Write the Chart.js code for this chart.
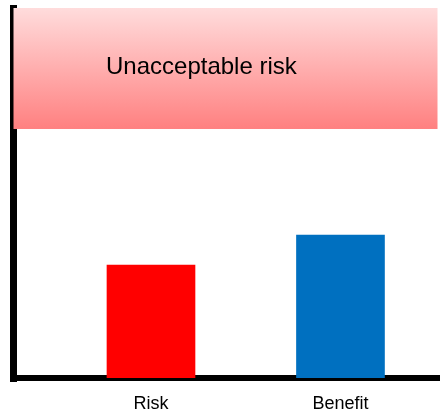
<!DOCTYPE html>
<html>
<head>
<meta charset="utf-8">
<script src="https://cdn.jsdelivr.net/npm/chart.js@4"></script>
<style>
  body { margin: 0; background: #fff; }
  canvas { display: block; }
</style>
</head>
<body>
<canvas id="mychart" width="440" height="413"></canvas>
<script>
// chart data
const categories = ["Risk", "Benefit"];
const values = [30.5, 38.6];
const barColors = ["#ff0000", "#0070c0"];
const bandRange = [67.3, 100];
const bandLabel = "Unacceptable risk";

const FONT = "'Liberation Sans', Arial, sans-serif";

// pink "unacceptable" zone, drawn from the y scale
const bandPlugin = {
    id: "band",
    beforeDatasetsDraw(chart) {
        const ctx = chart.ctx;
        const area = chart.chartArea;
        const y = chart.scales.y;
        const x = chart.scales.x;
        const top = y.getPixelForValue(bandRange[1]);
        const bottom = y.getPixelForValue(bandRange[0]);
        const grad = ctx.createLinearGradient(0, top, 0, bottom);
        grad.addColorStop(0, "#ffdcdc");
        grad.addColorStop(1, "#ff8080");
        ctx.save();
        ctx.fillStyle = grad;
        ctx.fillRect(area.left, top, area.right - area.left, bottom - top);
        ctx.fillStyle = "#000";
        ctx.font = "24px " + FONT;
        ctx.textAlign = "center";
        ctx.textBaseline = "alphabetic";
        ctx.fillText(bandLabel, x.getPixelForValue(0.266), y.getPixelForValue(82.2));
        ctx.restore();
    }
};

new Chart("mychart", {
    type: "bar",
    data: {
        datasets: [{
            data: values.map((v, i) => ({ x: i, y: v })),
            backgroundColor: barColors,
            barThickness: 88,
            borderWidth: 0
        }]
    },
    options: {
        responsive: false,
        devicePixelRatio: 1,
        animation: false,
        layout: { padding: { top: 8, left: 13.5, right: 2.5, bottom: 0 } },
        plugins: { legend: { display: false }, tooltip: { enabled: false } },
        scales: {
            x: {
                type: "linear",
                offset: false,
                min: -0.7256,
                max: 1.512,
                z: 1,
                grid: { display: false, drawTicks: false, lineWidth: 5 },
                border: { display: true, color: "#000", width: 6 },
                afterBuildTicks: s => { s.ticks = categories.map((c, i) => ({ value: i })); },
                afterFit: s => { s.height = 35; },
                ticks: {
                    autoSkip: false,
                    maxRotation: 0,
                    padding: 17.5,
                    color: "#000",
                    font: { family: FONT, size: 18, lineHeight: 1 },
                    callback: v => categories[v]
                }
            },
            y: {
                min: 0,
                max: 100,
                z: 1,
                grid: { display: false, drawTicks: false, lineWidth: 8 },
                border: { display: true, color: "#000", width: 7 },
                ticks: { display: false }
            }
        }
    },
    plugins: [bandPlugin]
});
</script>
</body>
</html>
